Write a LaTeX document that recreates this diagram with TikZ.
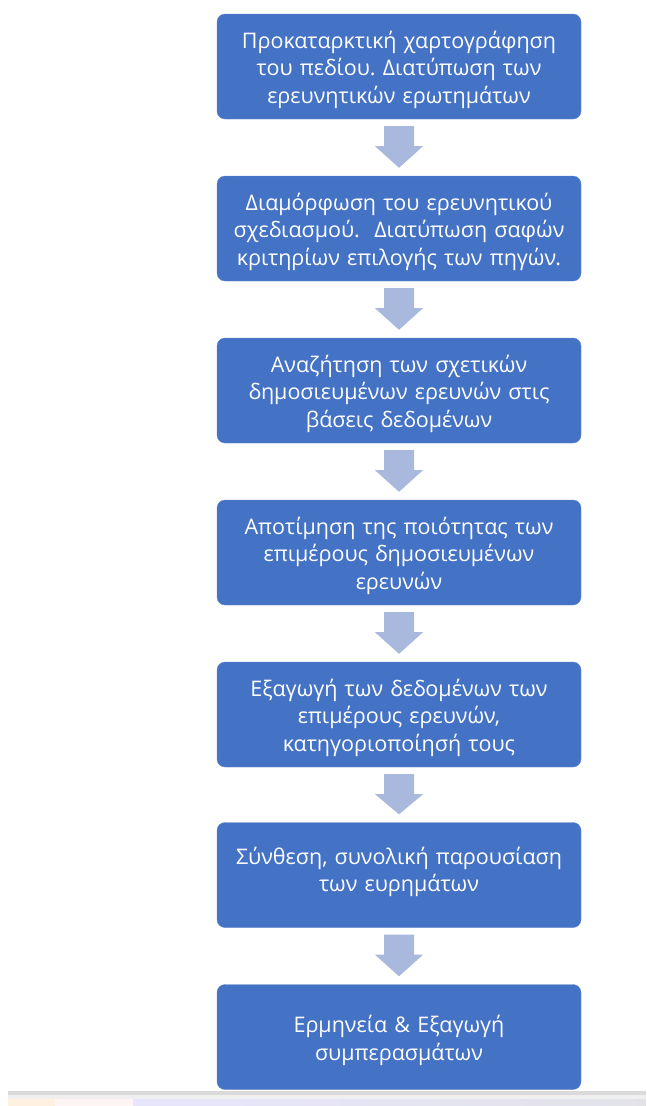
\documentclass[tikz,border=0pt]{standalone}
\usepackage{fontspec}
\setmainfont{Open Sans}
\frenchspacing
\usetikzlibrary{calc}
\definecolor{boxblue}{HTML}{4472C4}
\definecolor{arrowblue}{HTML}{A9B8DD}
\definecolor{rulegrey}{HTML}{DADADA}
% invisible box that lowers the text block a little
\newcommand{\toppad}{\raisebox{0pt}[24pt][0pt]{}}
\tikzset{
  stepbox/.style={fill=boxblue, draw=boxblue!85!white, rounded corners=8pt,
    minimum width=364pt, minimum height=105pt, text width=350pt, align=center,
    text=white, inner sep=0pt, font=\fontsize{21.5}{27.5}\selectfont,
    execute at begin node={\toppad}},
  flowarrow/.style={fill=arrowblue, draw=none}
}
% draws the block arrow between two stacked boxes
\newcommand{\blockarrow}[2]{%
  \fill[flowarrow]
    ($(#1.south)+(-15pt,-7pt)$) -- ($(#1.south)+(15pt,-7pt)$) --
    ($(#1.south)+(15pt,-27pt)$) -- ($(#1.south)+(24pt,-27pt)$) --
    ($(#2.north)+(0,8pt)$) --
    ($(#1.south)+(-24pt,-27pt)$) -- ($(#1.south)+(-15pt,-27pt)$) -- cycle;}
\begin{document}
\begin{tikzpicture}[x=1pt,y=-1pt]
\useasboundingbox (0,0) rectangle (646,1106);
\fill[white] (0,0) rectangle (646,1106);

\node[stepbox] (b1) at (399,66.5) {Προκαταρκτική χαρτογράφηση\\του πεδίου. Διατύπωση των\\ερευνητικών ερωτημάτων};
\node[stepbox] (b2) at (399,228.5) {Διαμόρφωση του ερευνητικού\\σχεδιασμού.\ \ Διατύπωση σαφών\\κριτηρίων επιλογής των πηγών.};
\node[stepbox] (b3) at (399,390.5) {Αναζήτηση των σχετικών\\δημοσιευμένων ερευνών στις\\βάσεις δεδομένων};
\node[stepbox] (b4) at (399,552.5) {Αποτίμηση της ποιότητας των\\επιμέρους δημοσιευμένων\\ερευνών};
\node[stepbox] (b5) at (399,714.5) {Εξαγωγή των δεδομένων των\\επιμέρους ερευνών,\\κατηγοριοποίησή τους};
\node[stepbox] (b6) at (399,875) {Σύνθεση, συνολική παρουσίαση\\των ευρημάτων\raisebox{0pt}[0pt][18pt]{}};
\node[stepbox] (b7) at (399,1037) {Ερμηνεία \& Εξαγωγή\\συμπερασμάτων};

\blockarrow{b1}{b2}
\blockarrow{b2}{b3}
\blockarrow{b3}{b4}
\blockarrow{b4}{b5}
\blockarrow{b5}{b6}
\blockarrow{b6}{b7}

% window edge along the bottom
\fill[rulegrey] (8,1091) rectangle (646,1095);
\fill[gray!12] (8,1095) rectangle (646,1099);
\fill[orange!12] (8,1099) rectangle (55,1106);
\fill[red!4] (55,1099) rectangle (133,1106);
\shade[left color=red!8!blue!10, right color=blue!12!gray!20] (133,1099) rectangle (646,1106);
\end{tikzpicture}
\end{document}
